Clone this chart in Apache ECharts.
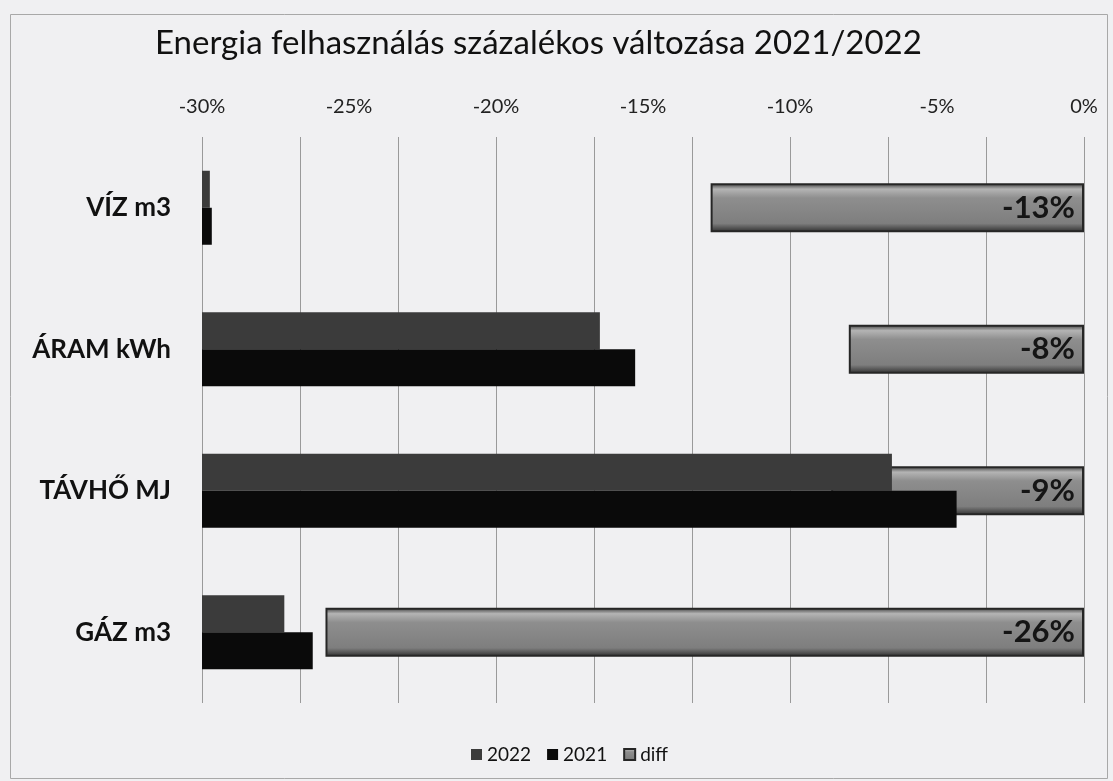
<!DOCTYPE html>
<html>
<head>
<meta charset="utf-8">
<script src="https://cdn.jsdelivr.net/npm/echarts@6/dist/echarts.min.js"></script>
<style>
  html, body { margin: 0; padding: 0; background: #f0f0f2; }
  #chart { width: 1113px; height: 781px; }
</style>
</head>
<body>
<div id="chart"></div>
<script>
// kategóriák felülről lefelé
const categories = ['VÍZ m3', 'ÁRAM kWh', 'TÁVHŐ MJ', 'GÁZ m3']
// 2022 / 2021 oszlopok a rejtett másodlagos tengelyen (0-90)
const values2022 = [0.8, 40.6, 70.4, 8.4]
const values2021 = [1.0, 44.2, 77.0, 11.3]
// százalékos változás
const diffValues = [-12.7, -8.0, -8.6, -25.8]
const pctTicks = [-30, -25, -20, -15, -10, -5, 0]

const font = 'Lato, "Open Sans", sans-serif'

const chart = echarts.init(document.getElementById('chart'))

// dombornyomott szürke sáv
const diffFill = new echarts.graphic.LinearGradient(0, 0, 0, 1, [
  { offset: 0, color: '#3a3a3a' },
  { offset: 0.12, color: '#b4b4b4' },
  { offset: 0.3, color: '#8e8e8e' },
  { offset: 0.82, color: '#7e7e7e' },
  { offset: 1, color: '#2e2e2e' }
])

const option = {
  backgroundColor: '#f0f0f2',
  textStyle: { fontFamily: font },
  title: {
    text: 'Energia felhasználás százalékos változása 2021/2022',
    left: 150,
    top: 22,
    textStyle: { fontFamily: font, fontSize: 33, fontWeight: 'normal', color: '#111' }
  },
  legend: {
    top: 740,
    left: 466,
    icon: 'rect',
    itemWidth: 11,
    itemHeight: 11,
    itemGap: 16,
    data: ['2022', '2021', 'diff'],
    textStyle: { fontFamily: font, fontSize: 19, color: '#111' }
  },
  grid: { left: 202, right: 29, top: 137, bottom: 78 },
  xAxis: [
    {
      type: 'value',
      position: 'top',
      min: pctTicks[0],
      max: pctTicks[pctTicks.length - 1],
      interval: 5,
      axisLine: { show: false },
      axisTick: { show: false },
      splitLine: { show: false },
      axisLabel: { formatter: v => v + '%', fontSize: 20, color: '#222', margin: 20, fontFamily: font }
    },
    {
      type: 'value',
      position: 'bottom',
      min: 0,
      max: 90,
      interval: 10,
      axisLine: { show: false },
      axisTick: { show: false },
      axisLabel: { show: false },
      splitLine: { show: true, lineStyle: { color: '#9a9a9a', width: 1 } }
    }
  ],
  yAxis: [
    {
      type: 'category',
      inverse: true,
      data: categories,
      axisLine: { show: false },
      axisTick: { show: false },
      axisLabel: { fontSize: 26, fontWeight: 'bold', color: '#111', margin: 31, fontFamily: font }
    },
    {
      type: 'category',
      inverse: true,
      data: categories,
      show: false
    }
  ],
  series: [
    {
      name: 'diff',
      type: 'bar',
      xAxisIndex: 0,
      yAxisIndex: 1,
      data: diffValues,
      barWidth: 49,
      z: 1,
      itemStyle: { color: diffFill, borderColor: '#262626', borderWidth: 2 },
      label: {
        show: true,
        position: 'insideRight',
        distance: 9,
        formatter: p => Math.round(p.value) + '%',
        fontSize: 31,
        fontWeight: 'bold',
        color: '#151515',
        fontFamily: font
      }
    },
    {
      name: '2022',
      type: 'bar',
      xAxisIndex: 1,
      yAxisIndex: 0,
      data: values2022,
      barWidth: 37,
      barGap: '0%',
      z: 3,
      itemStyle: { color: '#3b3b3b' }
    },
    {
      name: '2021',
      type: 'bar',
      xAxisIndex: 1,
      yAxisIndex: 0,
      data: values2021,
      barWidth: 37,
      barGap: '0%',
      z: 3,
      itemStyle: { color: '#0a0a0a' }
    }
  ],
  graphic: [
    {
      type: 'rect',
      left: 8,
      top: 12,
      shape: { width: 1097, height: 764 },
      style: { fill: 'none', stroke: '#a8a8a8', lineWidth: 1 },
      silent: true
    }
  ]
}

chart.setOption(option)
</script>
</body>
</html>
